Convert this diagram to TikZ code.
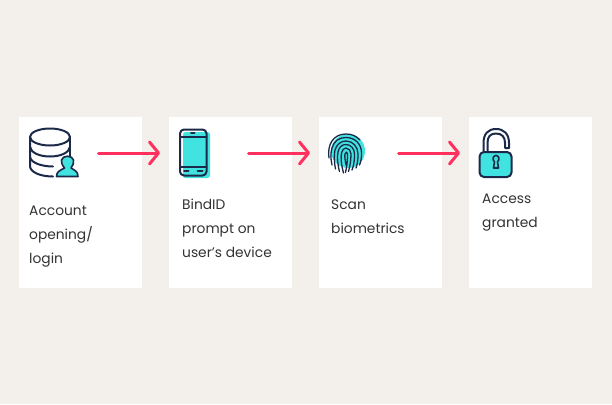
\documentclass[tikz,border=0pt]{standalone}
\usepackage{fontspec}
\setmainfont{Poppins}
\usetikzlibrary{arrows.meta}
\definecolor{bgc}{HTML}{F3F0EB}
\definecolor{ink}{HTML}{1C2A4A}
\definecolor{cy}{HTML}{40E3DF}
\definecolor{rd}{HTML}{FF2F5E}
\definecolor{txt}{HTML}{333333}
\tikzset{
 cardbox/.style={fill=white,draw=none,minimum width=123pt,minimum height=171pt,inner sep=0pt,anchor=north west},
 lbl/.style={font=\fontsize{13.8}{24}\selectfont,text=txt,anchor=north west,align=left,inner sep=0pt},
 flow/.style={draw=rd,line width=3pt,-{Straight Barb[length=9pt,width=22pt,line width=3pt,round]},line cap=round},
 icon/.style={draw=ink,line width=2pt,line cap=round,line join=round}
}
\begin{document}
\begin{tikzpicture}[x=1pt,y=-1pt]
\useasboundingbox (0,0) rectangle (612,404);
\fill[bgc] (0,0) rectangle (612,404);
\node[cardbox] (c1) at (19,117) {};
\node[cardbox] (c2) at (169,117) {};
\node[cardbox] (c3) at (319,117) {};
\node[cardbox] (c4) at (469,117) {};
\coordinate (a1s) at (98.5,153); \coordinate (a1e) at (160,153);
\coordinate (a2s) at (248.5,153); \coordinate (a2e) at (310,153);
\coordinate (a3s) at (398.5,153); \coordinate (a3e) at (460,153);
\draw[flow] (a1s) -- (a1e);
\draw[flow] (a2s) -- (a2e);
\draw[flow] (a3s) -- (a3e);
\node[lbl] (t1) at (29,206) {Account\\opening/\\login};
\node[lbl] (t2) at (182,198.5) {BindID\\prompt on\\user’s device};
\node[lbl] (t3) at (331,200) {Scan\\biometrics};
\node[lbl] (t4) at (482,194) {Access\\granted};
% database
\draw[icon] (50,137) ellipse [x radius=20, y radius=8.5];
\draw[icon] (30,137) -- (30,166) .. controls (30,172) and (40,176.5) .. (53,176.5);
\draw[icon] (70,137) -- (70,156);
\draw[icon] (30,147) .. controls (31,153) and (40,156.5) .. (50,156.5) .. controls (60,156.5) and (69,153) .. (70,147);
\draw[icon] (30,157) .. controls (31,163) and (42,166.5) .. (53,166.5);
% person
\draw[icon,fill=cy,line width=1.6pt] (56.5,176.5) .. controls (56.5,171.5) and (60,170.5) .. (64.5,168) .. controls (62,165) and (61,162) .. (61.5,160) .. controls (62.5,155) and (72.5,155) .. (73.5,160) .. controls (74,163) and (73,165.5) .. (71,168) .. controls (75,170.5) and (78,171.5) .. (78,176.5) -- cycle;
% phone
\fill[cy,rounded corners=2.5pt] (183,132) rectangle (210,178);
\draw[icon,rounded corners=4pt] (180,129.5) rectangle (206.5,175.5);
\draw[icon] (180,137) -- (206.5,137);
\draw[icon] (180,167) -- (206.5,167);
\draw[icon] (191,133) -- (194.5,133);
\draw[icon] (184,171) -- (188.5,171);
\draw[icon] (197.5,171) -- (202.5,171);
% fingerprint
\fill[cy] (348,151) circle [radius=17];
\begin{scope}[icon,line width=1.3pt]
\draw (329,158) .. controls (327,145) and (333,134) .. (346,134) .. controls (352,134) and (356,136) .. (360,140);
\draw (332,165) .. controls (330.5,158) and (330.5,153) .. (332,148) .. controls (334,141) and (339,137.5) .. (346,137.5) .. controls (355,137.5) and (361.5,144) .. (361.5,153) .. controls (361.5,158) and (361,162) .. (359.5,165);
\draw (335.5,169) .. controls (334,161) and (334,155) .. (335,150) .. controls (336.5,144.5) and (341,141) .. (346,141) .. controls (353,141) and (358,147) .. (358,154) .. controls (358,159) and (357.5,164) .. (356,168);
\draw (339.5,171.5) .. controls (337.5,164) and (337,157) .. (338,152) .. controls (339,147) and (342,144.5) .. (346,144.5) .. controls (351,144.5) and (354.5,149) .. (354.5,154) .. controls (354.5,160) and (354,165) .. (352,170);
\draw (343.5,173) .. controls (341.5,166) and (340.5,158) .. (341.5,153) .. controls (342,150) and (344,148) .. (346,148) .. controls (349,148) and (351,151) .. (351,154) .. controls (351,160) and (350,166) .. (348.5,171.5);
\draw (346,165) .. controls (345,160) and (344.5,156) .. (345,154) .. controls (345.5,151.5) and (347.5,151.5) .. (347.5,154) .. controls (347.5,160) and (347,166) .. (345.5,172.5);
\end{scope}
% lock
\draw[icon] (483.5,152) -- (483.5,143) .. controls (483.5,134) and (488,129) .. (496,129) .. controls (504,129) and (509,134) .. (509,143) -- (509,148) -- (505,148) -- (505,143) .. controls (505,137) and (502,133.5) .. (496,133.5) .. controls (490,133.5) and (487.5,137) .. (487.5,143) -- (487.5,152);
\draw[icon,fill=cy,rounded corners=4.5pt] (479.5,152) rectangle (511.5,177);
\draw[icon,line width=1.6pt] (493.5,168) -- (494.5,162) .. controls (492,159.5) and (493,155.5) .. (496,155.5) .. controls (499,155.5) and (500,159.5) .. (497.5,162) -- (498.5,168) -- cycle;
\end{tikzpicture}
\end{document}
